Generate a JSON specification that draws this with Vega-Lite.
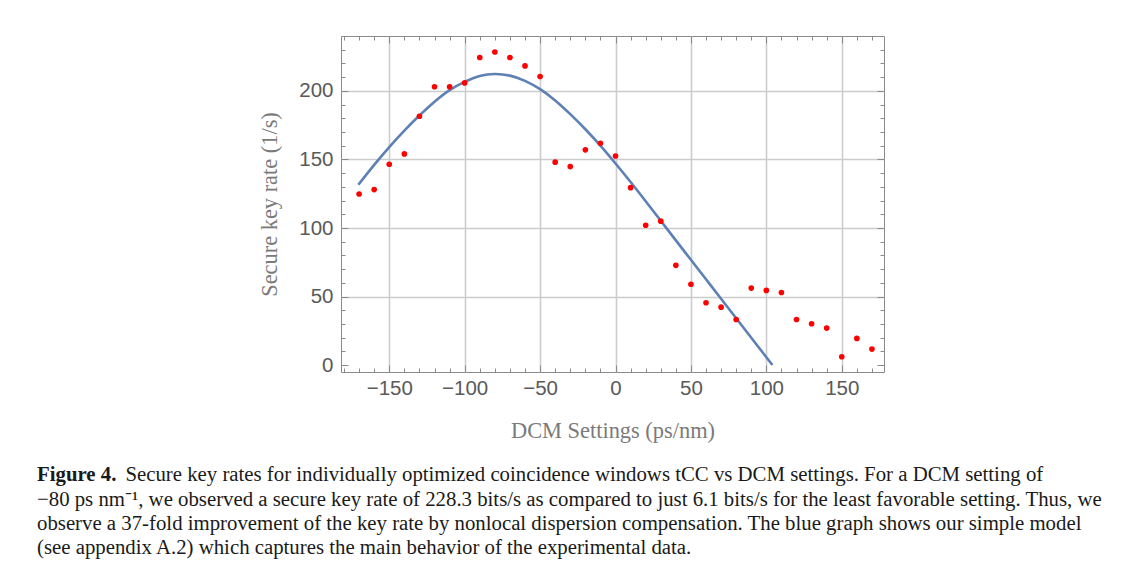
{
  "$schema": "https://vega.github.io/schema/vega-lite/v6.json",
  "width": 543,
  "height": 336,
  "autosize": {"type": "none"},
  "padding": {"left": 341, "top": 36, "right": 257, "bottom": 198},
  "background": "white",
  "datasets": {
    "points": [
      {"dcm": -170, "rate": 124.8}, {"dcm": -160, "rate": 128}, {"dcm": -150, "rate": 146.5},
      {"dcm": -140, "rate": 154}, {"dcm": -130, "rate": 181.5}, {"dcm": -120, "rate": 203},
      {"dcm": -110, "rate": 203}, {"dcm": -100, "rate": 205.8}, {"dcm": -90, "rate": 224.3},
      {"dcm": -80, "rate": 228.3}, {"dcm": -70, "rate": 224.3}, {"dcm": -60, "rate": 218.2},
      {"dcm": -50, "rate": 210.5}, {"dcm": -40, "rate": 148}, {"dcm": -30, "rate": 144.8},
      {"dcm": -20, "rate": 157}, {"dcm": -10, "rate": 161.8}, {"dcm": 0, "rate": 152.5},
      {"dcm": 10, "rate": 129.4}, {"dcm": 20, "rate": 102}, {"dcm": 30, "rate": 105},
      {"dcm": 40, "rate": 72.8}, {"dcm": 50, "rate": 59}, {"dcm": 60, "rate": 45.5},
      {"dcm": 70, "rate": 42.3}, {"dcm": 80, "rate": 33.3}, {"dcm": 90, "rate": 56.2},
      {"dcm": 100, "rate": 54.5}, {"dcm": 110, "rate": 53}, {"dcm": 120, "rate": 33.3},
      {"dcm": 130, "rate": 30.2}, {"dcm": 140, "rate": 27}, {"dcm": 150, "rate": 6.1},
      {"dcm": 160, "rate": 19.5}, {"dcm": 170, "rate": 11.7}
    ],
    "model": [
      {"dcm": -170.5, "rate": 131.5}, {"dcm": -160, "rate": 146}, {"dcm": -150, "rate": 159},
      {"dcm": -140, "rate": 171}, {"dcm": -130, "rate": 182}, {"dcm": -120, "rate": 192},
      {"dcm": -110, "rate": 200.5}, {"dcm": -100, "rate": 206.5}, {"dcm": -90, "rate": 210.8},
      {"dcm": -80, "rate": 212.3}, {"dcm": -70, "rate": 211.1}, {"dcm": -60, "rate": 207.3},
      {"dcm": -50, "rate": 201.2}, {"dcm": -40, "rate": 193}, {"dcm": -30, "rate": 183},
      {"dcm": -20, "rate": 172}, {"dcm": -10, "rate": 160}, {"dcm": 0, "rate": 147},
      {"dcm": 10, "rate": 133.5}, {"dcm": 20, "rate": 119.5}, {"dcm": 30, "rate": 105.3},
      {"dcm": 40, "rate": 91}, {"dcm": 50, "rate": 76.8}, {"dcm": 60, "rate": 62.6},
      {"dcm": 70, "rate": 48.4}, {"dcm": 80, "rate": 34.2}, {"dcm": 90, "rate": 20},
      {"dcm": 100, "rate": 5.8}, {"dcm": 104, "rate": 0.1}
    ]
  },
  "title": {
    "text": "Figure 4.",
    "subtitle": [
      "\u200b\u00a0\u00a0\u00a0\u00a0\u00a0\u00a0\u00a0\u00a0\u00a0\u00a0\u00a0\u00a0\u00a0\u00a0\u00a0\u00a0\u00a0Secure key rates for individually optimized coincidence windows tCC vs DCM settings. For a DCM setting of",
      "\u221280 ps nm\u207b\u00b9, we observed a secure key rate of 228.3 bits/s as compared to just 6.1 bits/s for the least favorable setting. Thus, we",
      "observe a 37-fold improvement of the key rate by nonlocal dispersion compensation. The blue graph shows our simple model",
      "(see appendix A.2) which captures the main behavior of the experimental data."
    ],
    "orient": "bottom",
    "anchor": "start",
    "frame": "group",
    "align": "left",
    "dx": -304,
    "offset": 23.5,
    "font": "Liberation Serif",
    "fontSize": 20.8,
    "fontWeight": "bold",
    "color": "#1a1a1a",
    "subtitleFont": "Liberation Serif",
    "subtitleFontSize": 20.8,
    "subtitleFontWeight": "normal",
    "subtitleColor": "#1a1a1a",
    "subtitleLineHeight": 24.3,
    "subtitlePadding": -20.8
  },
  "layer": [
    {
      "data": {"name": "model"},
      "mark": {"type": "line", "color": "#5E81B5", "strokeWidth": 2.6, "interpolate": "natural"},
      "encoding": {
        "x": {
          "field": "dcm", "type": "quantitative",
          "scale": {"domain": [-182, 178], "nice": false, "zero": false},
          "axis": {
            "orient": "bottom",
            "values": [-150, -100, -50, 0, 50, 100, 150],
            "title": "DCM Settings (ps/nm)",
            "grid": true,
            "tickSize": -7,
            "labelPadding": 13,
            "titlePadding": 21
          }
        },
        "y": {
          "field": "rate", "type": "quantitative",
          "scale": {"domain": [-5, 240], "nice": false, "zero": false},
          "axis": {
            "orient": "left",
            "values": [0, 50, 100, 150, 200],
            "title": "Secure key rate (1/s)",
            "grid": true,
            "gridOpacity": {"condition": {"test": "datum.value === 0", "value": 0}, "value": 1},
            "tickSize": -7,
            "labelPadding": 15,
            "titlePadding": 17
          }
        }
      }
    },
    {
      "data": {"name": "points"},
      "mark": {"type": "circle", "color": "#FF0000", "opacity": 1, "size": 32},
      "encoding": {
        "x": {
          "field": "dcm", "type": "quantitative",
          "axis": {
            "orient": "bottom",
            "values": [-180, -170, -160, -150, -140, -130, -120, -110, -100, -90, -80, -70, -60, -50, -40, -30, -20, -10, 0, 10, 20, 30, 40, 50, 60, 70, 80, 90, 100, 110, 120, 130, 140, 150, 160, 170],
            "labels": false, "grid": false, "title": null, "tickSize": -4
          }
        },
        "y": {
          "field": "rate", "type": "quantitative",
          "axis": {
            "orient": "left",
            "values": [0, 10, 20, 30, 40, 50, 60, 70, 80, 90, 100, 110, 120, 130, 140, 150, 160, 170, 180, 190, 200, 210, 220, 230],
            "labels": false, "grid": false, "title": null, "tickSize": -4
          }
        }
      }
    },
    {
      "data": {"name": "points"},
      "mark": {"type": "circle", "opacity": 0},
      "encoding": {
        "x": {
          "field": "dcm", "type": "quantitative",
          "axis": {"orient": "top", "values": [-150, -100, -50, 0, 50, 100, 150], "labels": false, "grid": false, "title": null, "tickSize": -7}
        },
        "y": {
          "field": "rate", "type": "quantitative",
          "axis": {"orient": "right", "values": [0, 50, 100, 150, 200], "labels": false, "grid": false, "title": null, "tickSize": -7}
        }
      }
    },
    {
      "data": {"name": "points"},
      "mark": {"type": "circle", "opacity": 0},
      "encoding": {
        "x": {
          "field": "dcm", "type": "quantitative",
          "axis": {
            "orient": "top",
            "values": [-180, -170, -160, -150, -140, -130, -120, -110, -100, -90, -80, -70, -60, -50, -40, -30, -20, -10, 0, 10, 20, 30, 40, 50, 60, 70, 80, 90, 100, 110, 120, 130, 140, 150, 160, 170],
            "labels": false, "grid": false, "title": null, "tickSize": -4
          }
        },
        "y": {
          "field": "rate", "type": "quantitative",
          "axis": {
            "orient": "right",
            "values": [0, 10, 20, 30, 40, 50, 60, 70, 80, 90, 100, 110, 120, 130, 140, 150, 160, 170, 180, 190, 200, 210, 220, 230],
            "labels": false, "grid": false, "title": null, "tickSize": -4
          }
        }
      }
    }
  ],
  "resolve": {"axis": {"x": "independent", "y": "independent"}},
  "config": {
    "view": {"stroke": "#8a8a8a", "strokeWidth": 1},
    "axis": {
      "domain": false,
      "tickColor": "#8a8a8a",
      "tickWidth": 1,
      "gridColor": "#cccccc",
      "gridWidth": 1.6,
      "labelFont": "Liberation Sans",
      "labelFontSize": 20.5,
      "labelColor": "#5a5a5a",
      "labelFlush": false,
      "labelOverlap": false,
      "titleFont": "Liberation Serif",
      "titleFontSize": 22.4,
      "titleFontWeight": "normal",
      "titleColor": "#7a7a7a"
    }
  }
}
